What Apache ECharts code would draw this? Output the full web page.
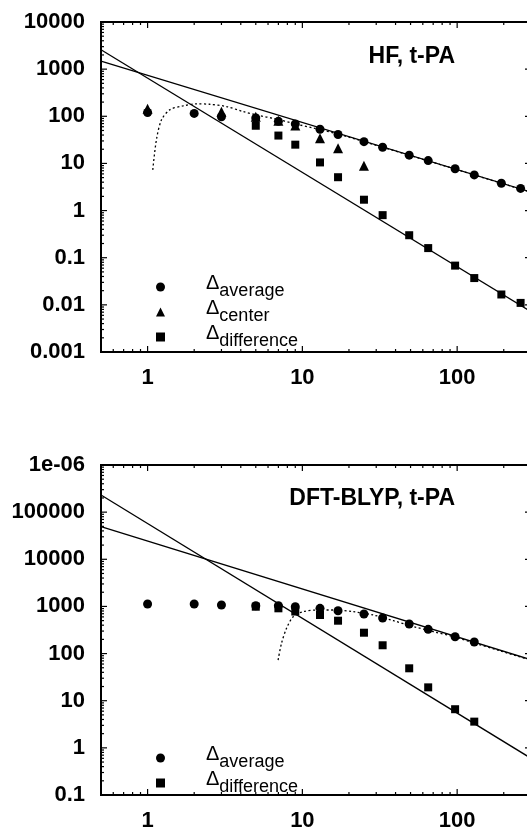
<!DOCTYPE html>
<html>
<head>
<meta charset="utf-8">
<script src="https://cdn.jsdelivr.net/npm/echarts@6/dist/echarts.min.js"></script>
<style>
html,body{margin:0;padding:0;background:#fff;}
#c1,#c2{width:527px;height:415px;}
</style>
</head>
<body>
<div id="c1"></div>
<div id="c2"></div>
<script>
// ---------------- data ----------------
const xLabelValues = [1, 10, 100];
const xLabels = ['1', '10', '100'];
const minorMultipliers = [2, 3, 4, 5, 6, 7, 8, 9];

// HF, t-PA
const hfYLabels = ['0.001', '0.01', '0.1', '1', '10', '100', '1000', '10000'];
const hfX = [1, 2, 3, 5, 7, 9, 13, 17, 25, 33, 49, 65, 97, 129, 193, 257];
const hfAverage = [120, 115, 98, 92, 78, 69, 53, 41, 29, 22, 15, 11.5, 7.7, 5.7, 3.8, 2.95];
const hfCenter = [145, null, 125, 98, 80, 64, 34, 21, 8.9, null, null, null, null, null, null, null];
const hfDifference = [null, null, null, 63, 39, 25, 10.5, 5.1, 1.7, 0.8, 0.30, 0.16, 0.068, 0.037, 0.0166, 0.011];
const hfSteepX = [0.5, 300];
const hfSteepY = [2570, 0.0072];
const hfShallowX = [0.5, 300];
const hfShallowY = [1480, 2.47];
const hfFitX = [1.08, 1.14, 1.23, 1.39, 1.69, 2.07, 2.52, 3.23, 4.14, 5.05, 6.8, 8.7, 12.4, 17, 25, 33, 49, 65, 97, 129, 193, 300];
const hfFitY = [7.3, 31.6, 84, 137, 166, 183, 180, 161, 126, 107, 87, 71, 54, 42, 29, 22, 15, 11.3, 7.6, 5.7, 3.8, 2.45];

// DFT-BLYP, t-PA
const dftYLabels = ['0.1', '1', '10', '100', '1000', '10000', '100000', '1e-06'];
const dftX = [1, 2, 3, 5, 7, 9, 13, 17, 25, 33, 49, 65, 97, 129];
const dftAverage = [1125, 1125, 1070, 1035, 1035, 986, 912, 811, 690, 568, 424, 327, 228, 176];
const dftDifference = [null, null, null, 986, 912, 780, 658, 498, 277, 150, 48.7, 19.2, 6.6, 3.6];
const dftSteepX = [0.5, 300];
const dftSteepY = [231000, 0.6];
const dftShallowX = [0.5, 300];
const dftShallowY = [49100, 74];
const dftFitX = [6.97, 7.33, 7.9, 8.72, 10.1, 12.35, 15.8, 21.3, 28.7, 38.8, 52.4, 70.4, 95, 127, 190, 300];
const dftFitY = [73, 165, 343, 606, 773, 839, 839, 773, 658, 498, 372, 291, 228, 170, 114, 72];

// ---------------- chart building ----------------
const FONT = "'Liberation Sans', Arial, Helvetica, sans-serif";

function pairs(xs, ys) {
  return xs.map((x, i) => [x, ys[i]]).filter(p => p[1] != null);
}

function buildOption(c) {
  const xMin = 0.5, xMax = 300;
  const yMin = Math.pow(10, c.yExpMin), yMax = Math.pow(10, c.yExpMin + c.yLabels.length - 1);
  const ticks = [];
  xLabelValues.forEach(v => ticks.push([v, yMin, 0]));
  for (let e = -1; e <= 2; e++) {
    minorMultipliers.forEach(m => {
      const v = m * Math.pow(10, e);
      if (v > xMin && v <= xMax) ticks.push([v, yMin, 1]);
    });
  }
  for (let i = 0; i < c.yLabels.length; i++) {
    const e = c.yExpMin + i;
    ticks.push([xMin, Math.pow(10, e), 2]);
    if (i < c.yLabels.length - 1) {
      minorMultipliers.forEach(m => ticks.push([xMin, m * Math.pow(10, e), 3]));
    }
  }

  const series = [];
  c.lines.forEach(l => series.push({
    type: 'line', data: pairs(l[0], l[1]), showSymbol: false, silent: true,
    lineStyle: { color: '#000', width: 1.3 }, z: 2, animation: false
  }));
  series.push({
    type: 'line', data: pairs(c.fit[0], c.fit[1]), showSymbol: false, silent: true, smooth: 0.3,
    lineStyle: { color: '#000', width: 1.3, type: [2, 2.5] }, z: 2, animation: false
  });
  c.scatters.forEach(s => series.push({
    type: 'scatter', name: s.name, data: pairs(c.x, s.y), symbol: s.symbol, symbolSize: s.size,
    itemStyle: { color: '#000', opacity: 1 }, z: 3, animation: false
  }));
  series.push({
    type: 'custom', data: ticks, silent: true, animation: false, z: 4, clip: false,
    encode: { x: 0, y: 1 },
    renderItem: function (params, api) {
      const cs = params.coordSys;
      const kind = api.value(2);
      const p = api.coord([api.value(0), api.value(1)]);
      const L = (kind === 0 || kind === 2) ? 6 : 3;
      const st = { stroke: '#000', lineWidth: 1.2 };
      let segs;
      if (kind < 2) {
        const b = cs.y + cs.height, t = cs.y;
        segs = [[p[0], b, p[0], b - L], [p[0], t, p[0], t + L]];
      } else {
        const l = cs.x, r = cs.x + cs.width;
        segs = [[l, p[1], l + L, p[1]], [r, p[1], r - L, p[1]]];
      }
      return {
        type: 'group',
        children: segs.map(s => ({ type: 'line', shape: { x1: s[0], y1: s[1], x2: s[2], y2: s[3] }, style: st }))
      };
    }
  });

  return {
    backgroundColor: '#fff',
    animation: false,
    grid: {
      left: 101, top: c.gridTop, width: 430, height: 330, containLabel: false, outerBoundsMode: 'none',
      show: true, borderColor: '#000', borderWidth: 2, backgroundColor: 'transparent'
    },
    xAxis: {
      type: 'log', logBase: 10, min: xMin, max: xMax,
      axisLine: { show: false }, axisTick: { show: false }, splitLine: { show: false },
      axisLabel: {
        margin: 15, fontSize: 22, fontWeight: 'bold', color: '#000', fontFamily: FONT,
        showMinLabel: false, showMaxLabel: false,
        formatter: function (v) {
          const i = xLabelValues.findIndex(t => Math.abs(Math.log10(v) - Math.log10(t)) < 1e-6);
          return i >= 0 ? xLabels[i] : '';
        }
      }
    },
    yAxis: {
      type: 'log', logBase: 10, min: yMin, max: yMax,
      axisLine: { show: false }, axisTick: { show: false }, splitLine: { show: false },
      axisLabel: {
        margin: 16, fontSize: 22, fontWeight: 'bold', color: '#000', fontFamily: FONT,
        formatter: function (v) {
          const i = Math.round(Math.log10(v)) - c.yExpMin;
          return c.yLabels[i] !== undefined ? c.yLabels[i] : '';
        }
      }
    },
    legend: {
      left: 156, top: c.legendTop, orient: 'vertical', itemGap: -3, itemWidth: 9, itemHeight: 9,
      padding: 0, selectedMode: false, data: c.scatters.map(s => s.name),
      formatter: n => '{d|Δ}{s|' + n + '}',
      textStyle: {
        color: '#000', fontFamily: FONT,
        rich: {
          d: { fontSize: 20, lineHeight: 20, padding: [0, 0, 8, 36], fontFamily: FONT, color: '#000' },
          s: { fontSize: 18, lineHeight: 20, padding: [8, 0, 0, 0], fontFamily: FONT, color: '#000' }
        }
      }
    },
    graphic: [{
      type: 'text', right: 527 - 455, top: c.titleY - 12,
      style: { text: c.title, fontSize: 23, fontWeight: 'bold', fontFamily: FONT, fill: '#000', textAlign: 'right' }
    }],
    series: series
  };
}

const chart1 = echarts.init(document.getElementById('c1'), null, { renderer: 'canvas' });
chart1.setOption(buildOption({
  title: 'HF, t-PA', titleY: 57.5, gridTop: 22, legendTop: 273,
  yLabels: hfYLabels, yExpMin: -3, x: hfX,
  lines: [[hfSteepX, hfSteepY], [hfShallowX, hfShallowY]],
  fit: [hfFitX, hfFitY],
  scatters: [
    { name: 'average', y: hfAverage, symbol: 'circle', size: 9 },
    { name: 'center', y: hfCenter, symbol: 'triangle', size: 10 },
    { name: 'difference', y: hfDifference, symbol: 'rect', size: 8 }
  ]
}));

const chart2 = echarts.init(document.getElementById('c2'), null, { renderer: 'canvas' });
chart2.setOption(buildOption({
  title: 'DFT-BLYP, t-PA', titleY: 84, gridTop: 50, legendTop: 329,
  yLabels: dftYLabels, yExpMin: -1, x: dftX,
  lines: [[dftSteepX, dftSteepY], [dftShallowX, dftShallowY]],
  fit: [dftFitX, dftFitY],
  scatters: [
    { name: 'average', y: dftAverage, symbol: 'circle', size: 9 },
    { name: 'difference', y: dftDifference, symbol: 'rect', size: 8 }
  ]
}));
</script>
</body>
</html>
